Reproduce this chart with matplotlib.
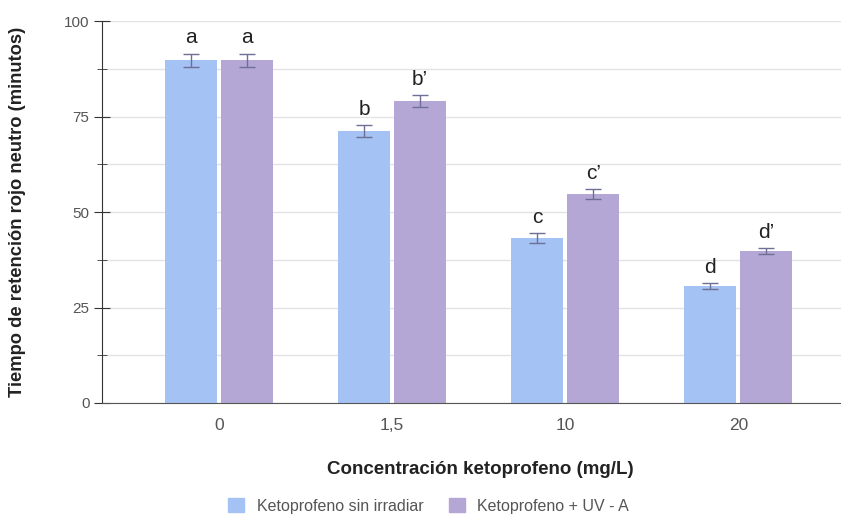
import matplotlib

matplotlib.use("Agg")
import matplotlib.pyplot as plt
import numpy as np
from matplotlib.patches import Patch
from matplotlib.ticker import MultipleLocator

plt.rcParams["font.family"] = ["Liberation Sans", "DejaVu Sans"]

categories = ["0", "1,5", "10", "20"]
series_names = ["Ketoprofeno sin irradiar", "Ketoprofeno + UV - A"]
sin_irradiar = [89.8, 71.2, 43.2, 30.6]
sin_irradiar_err = [1.7, 1.5, 1.2, 0.7]
uva = [89.8, 79.1, 54.7, 39.8]
uva_err = [1.7, 1.6, 1.2, 0.8]
letters_sin = ["a", "b", "c", "d"]
letters_uva = ["a", "b\u2019", "c\u2019", "d\u2019"]

COLORS = ["#a4c2f4", "#b4a7d6"]
ERR_COLOR = "#6f6f95"

fig = plt.figure(figsize=(8.41, 5.14), dpi=100)
ax = fig.add_axes([0.1213, 0.216, 0.879, 0.743])

x = np.arange(len(categories))
width = 0.30
offset = 0.162

for vals, errs, labels, color, off in [
    (sin_irradiar, sin_irradiar_err, letters_sin, COLORS[0], -offset),
    (uva, uva_err, letters_uva, COLORS[1], offset),
]:
    ax.bar(x + off, vals, width, color=color, zorder=2)
    ax.errorbar(x + off, vals, yerr=errs, fmt="none", ecolor=ERR_COLOR,
                elinewidth=1, capsize=6, capthick=1, zorder=3)
    for xi, v, e, lab in zip(x + off, vals, errs, labels):
        ax.text(xi, v + e + 1.6, lab, ha="center", va="bottom",
                fontsize=15, color="#222222")

ax.set_xlim(-0.676, 3.595)
ax.set_ylim(0, 100)
ax.set_xticks(x)
ax.set_xticklabels(categories)
ax.yaxis.set_major_locator(MultipleLocator(25))
ax.yaxis.set_minor_locator(MultipleLocator(12.5))
ax.grid(axis="y", which="both", color="#e3e3e3", linewidth=1, zorder=0)
ax.set_axisbelow(True)

for s in ["top", "right"]:
    ax.spines[s].set_visible(False)
ax.spines["left"].set_color("#333333")
ax.spines["bottom"].set_color("#555555")
ax.tick_params(axis="y", which="major", direction="inout", length=12,
               labelsize=11, labelcolor="#555555", color="#333333", pad=3)
ax.tick_params(axis="y", which="minor", direction="inout", length=7,
               color="#333333")
ax.tick_params(axis="x", length=0, labelsize=12.5, labelcolor="#555555", pad=11)

ax.set_ylabel("Tiempo de retención rojo neutro (minutos)", fontsize=13.2,
              fontweight="bold", color="#222222", va="center")
ax.yaxis.set_label_coords(-0.1137, 0.5)
ax.set_xlabel("Concentración ketoprofeno (mg/L)", fontsize=13.5,
              fontweight="bold", color="#222222", va="center")
ax.xaxis.set_label_coords(0.5115, -0.175)

handles = [Patch(color=c, label=n) for c, n in zip(COLORS, series_names)]
fig.legend(handles=handles, loc="center", bbox_to_anchor=(0.5095, 0.0156),
           ncol=2, frameon=False, fontsize=11.5, labelcolor="#555555",
           handlelength=1.0, handleheight=1.0, handletextpad=0.8,
           columnspacing=1.6, borderpad=0)

plt.savefig("out.png", dpi=100)
plt.close()
